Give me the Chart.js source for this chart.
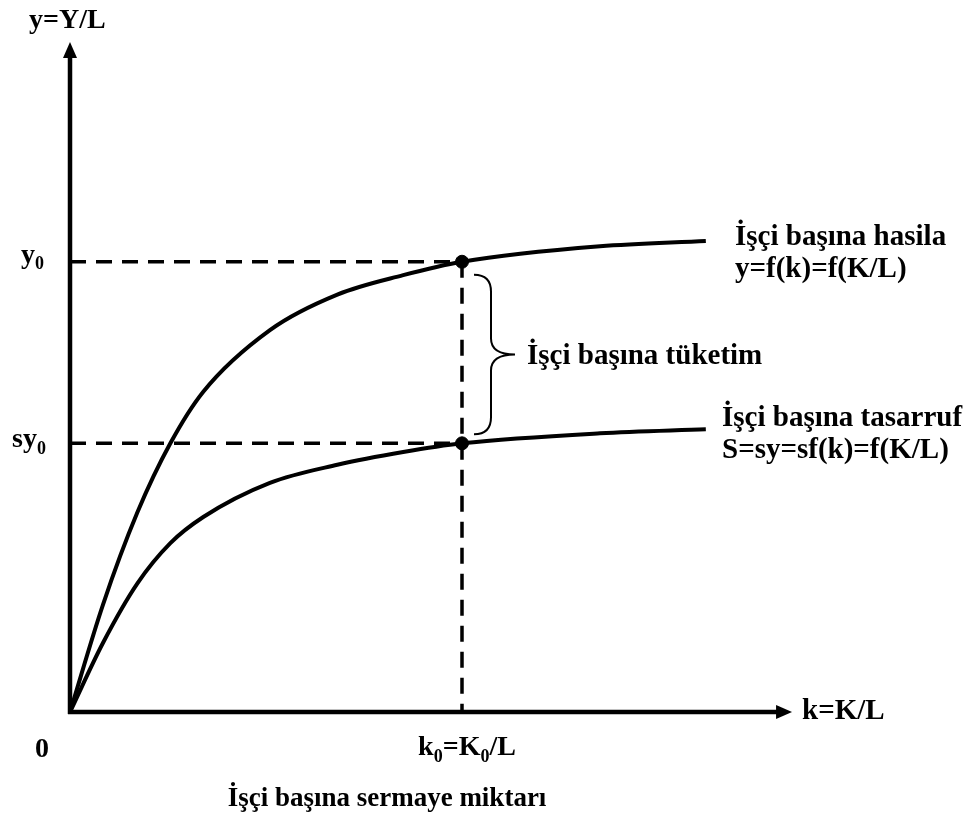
<!DOCTYPE html>
<html>
<head>
<meta charset="utf-8">
<script src="https://cdn.jsdelivr.net/npm/chart.js@4/dist/chart.umd.min.js"></script>
<style>
  html, body { margin: 0; padding: 0; background: #fff; }
  #wrap { width: 976px; height: 813px; position: relative; }
</style>
</head>
<body>
<div id="wrap"><canvas id="solowChart"></canvas></div>
<script>
const kValues = [0, 0.42, 0.86, 1.28, 1.7, 2.55, 3.41, 4.25, 5, 6.76, 8.11];
// y = f(k)  (output per worker)
const outputValues = [0, 16.0, 29.8, 40.1, 47.8, 57.0, 62.3, 65.2, 67.2, 69.5, 70.3];
// s*f(k)  (saving per worker)
const savingValues = [0, 10.3, 19.2, 25.2, 29.1, 34.2, 36.9, 38.8, 40.1, 41.6, 42.2];

// reference point
const k0 = 5;
const y0 = 67.2;
const sy0 = 40.1;

// axis ranges (arrow ends)
const xMax = 10, yMax = 100;
const xAxisEnd = 9.21;

const FONT = '"Liberation Serif", "Times New Roman", serif';

function toPoints(xs, ys) {
    return xs.map((x, i) => ({ x: x, y: ys[i] }));
}

// draw text with subscripts: parts = [[text, isSub], ...]
function drawParts(ctx, parts, x, y, align, size) {
    const subSize = Math.round(size * 0.64);
    let total = 0;
    parts.forEach(p => {
        ctx.font = 'bold ' + (p[1] ? subSize : size) + 'px ' + FONT;
        total += ctx.measureText(p[0]).width;
    });
    let cx = x;
    if (align === 'center') cx = x - total / 2;
    if (align === 'right') cx = x - total;
    ctx.textAlign = 'left';
    parts.forEach(p => {
        ctx.font = 'bold ' + (p[1] ? subSize : size) + 'px ' + FONT;
        ctx.fillText(p[0], cx, p[1] ? y + size * 0.24 : y);
        cx += ctx.measureText(p[0]).width;
    });
}

const decorPlugin = {
    id: 'decor',
    beforeDatasetsDraw(chart) {
        const ctx = chart.ctx;
        const xs = chart.scales.x, ys = chart.scales.y;
        const ox = xs.getPixelForValue(0), oy = ys.getPixelForValue(0);
        const ex = xs.getPixelForValue(xAxisEnd), ey = ys.getPixelForValue(yMax);
        ctx.save();
        ctx.strokeStyle = '#000';
        ctx.fillStyle = '#000';
        ctx.lineWidth = 4.5;
        // y axis
        ctx.beginPath();
        ctx.moveTo(ox, oy + 2);
        ctx.lineTo(ox, ey + 12);
        ctx.stroke();
        ctx.beginPath();
        ctx.moveTo(ox, ey);
        ctx.lineTo(ox - 7, ey + 16);
        ctx.lineTo(ox + 7, ey + 16);
        ctx.closePath();
        ctx.fill();
        // x axis
        ctx.beginPath();
        ctx.moveTo(ox - 2, oy);
        ctx.lineTo(ex - 12, oy);
        ctx.stroke();
        ctx.beginPath();
        ctx.moveTo(ex, oy);
        ctx.lineTo(ex - 16, oy - 7);
        ctx.lineTo(ex - 16, oy + 7);
        ctx.closePath();
        ctx.fill();
        ctx.restore();
    },
    afterDatasetsDraw(chart) {
        const ctx = chart.ctx;
        const xs = chart.scales.x, ys = chart.scales.y;
        const kx = xs.getPixelForValue(k0);
        const py0 = ys.getPixelForValue(y0), psy0 = ys.getPixelForValue(sy0);
        const ox = xs.getPixelForValue(0), oy = ys.getPixelForValue(0);
        ctx.save();
        ctx.fillStyle = '#000';
        ctx.strokeStyle = '#000';

        // brace between the two curves
        const top = py0 + 13, bot = psy0 - 9, mid = (top + bot) / 2;
        const bx = kx + 12, bx2 = kx + 29, tip = kx + 53;
        ctx.lineWidth = 2;
        ctx.beginPath();
        ctx.moveTo(bx, top);
        ctx.quadraticCurveTo(bx2, top, bx2, top + 17);
        ctx.lineTo(bx2, mid - 16);
        ctx.quadraticCurveTo(bx2, mid, tip, mid);
        ctx.quadraticCurveTo(bx2, mid, bx2, mid + 16);
        ctx.lineTo(bx2, bot - 17);
        ctx.quadraticCurveTo(bx2, bot, bx, bot);
        ctx.stroke();

        ctx.textBaseline = 'alphabetic';
        // axis titles
        drawParts(ctx, [['y=Y/L', false]], 29, 28, 'left', 28);
        drawParts(ctx, [['k=K/L', false]], 802, oy + 7, 'left', 29);
        drawParts(ctx, [['0', false]], 42, oy + 45, 'center', 28);
        drawParts(ctx, [['y', false], ['0', true]], ox - 26, py0 + 1, 'right', 28);
        drawParts(ctx, [['sy', false], ['0', true]], ox - 24, psy0 + 4, 'right', 28);
        drawParts(ctx, [['k', false], ['0', true], ['=K', false], ['0', true], ['/L', false]], kx + 5, oy + 43, 'center', 28);
        drawParts(ctx, [['İşçi başına sermaye miktarı', false]], 387, oy + 94, 'center', 27);

        // curve labels
        drawParts(ctx, [['İşçi başına tüketim', false]], tip + 12, mid + 9, 'left', 29);
        drawParts(ctx, [['İşçi başına hasila', false]], 735, 245, 'left', 29);
        drawParts(ctx, [['y=f(k)=f(K/L)', false]], 735, 277, 'left', 29);
        drawParts(ctx, [['İşçi başına tasarruf', false]], 722, 426, 'left', 29);
        drawParts(ctx, [['S=sy=sf(k)=f(K/L)', false]], 722, 458, 'left', 29);
        ctx.restore();
    }
};

const ctx = document.getElementById('solowChart').getContext('2d');
const guideStyle = { borderColor: '#000', borderWidth: 3.5, borderDash: [16, 10], pointRadius: 0 };
const solowChart = new Chart(ctx, {
    type: 'line',
    data: {
        datasets: [
            Object.assign({ label: 'y0 guide', data: [{ x: 0, y: y0 }, { x: k0, y: y0 }] }, guideStyle),
            Object.assign({ label: 'sy0 guide', data: [{ x: 0, y: sy0 }, { x: k0, y: sy0 }] }, guideStyle),
            Object.assign({ label: 'k0 guide', data: [{ x: k0, y: y0 }, { x: k0, y: 0 }] }, guideStyle),
            {
                label: 'y=f(k)',
                data: toPoints(kValues, outputValues),
                borderColor: '#000',
                borderWidth: 4,
                cubicInterpolationMode: 'monotone',
                pointRadius: 0
            },
            {
                label: 'sf(k)',
                data: toPoints(kValues, savingValues),
                borderColor: '#000',
                borderWidth: 4,
                cubicInterpolationMode: 'monotone',
                pointRadius: 0
            },
            {
                label: 'points',
                data: [{ x: k0, y: y0 }, { x: k0, y: sy0 }],
                showLine: false,
                pointRadius: 6.5,
                pointBackgroundColor: '#000',
                pointBorderColor: '#000'
            }
        ]
    },
    options: {
        responsive: true,
        maintainAspectRatio: false,
        animation: false,
        layout: { padding: { left: 70, right: 122, top: 42, bottom: 101 } },
        plugins: { legend: { display: false }, tooltip: { enabled: false } },
        scales: {
            x: { type: 'linear', min: 0, max: xMax, display: false },
            y: { type: 'linear', min: 0, max: yMax, display: false }
        }
    },
    plugins: [decorPlugin]
});
</script>
</body>
</html>
